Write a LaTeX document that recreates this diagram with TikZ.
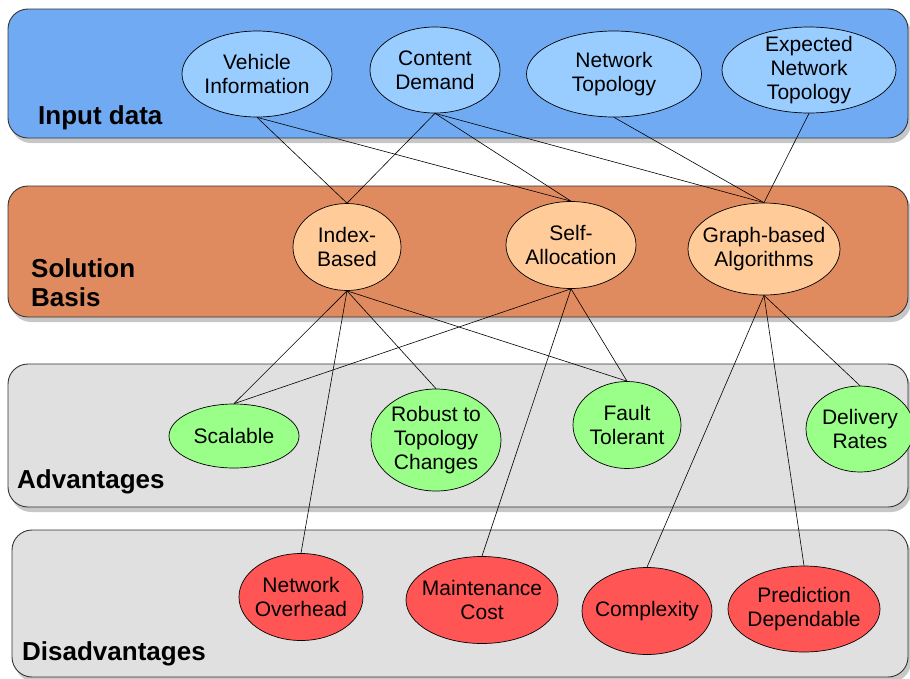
\documentclass[tikz,border=0pt]{standalone}
\usepackage{fontspec}
\setmainfont{Liberation Sans}
\usetikzlibrary{shapes.geometric,shadows}
\definecolor{bandblue}{RGB}{111,170,242}
\definecolor{lblue}{RGB}{153,204,255}
\definecolor{bandorange}{RGB}{224,138,96}
\definecolor{lorange}{RGB}{255,204,153}
\definecolor{bandgray}{RGB}{224,224,224}
\definecolor{lgreen}{RGB}{153,255,136}
\definecolor{lred}{RGB}{255,85,85}
\begin{document}
\begin{tikzpicture}[x=1pt,y=-1pt,
  band/.style={draw=black!80, line width=0.9pt, rounded corners=20pt,
    drop shadow={shadow xshift=3pt,shadow yshift=-5pt,fill=black!22,opacity=1}},
  ell/.style={ellipse, draw=black, line width=0.7pt, inner sep=0pt},
  txt/.style={align=center, inner sep=0pt, font=\fontsize{21}{24}\selectfont},
  lbl/.style={font=\bfseries\fontsize{26}{29}\selectfont, anchor=base west, inner sep=0pt},
  conn/.style={line width=0.6pt, draw=black}]
\useasboundingbox (0,0) rectangle (910,678);
\begin{scope}
\clip (0,0) rectangle (910,678);
% bands
\path[band, fill=bandblue]   (8,9)    rectangle (908,138);
\path[band, fill=bandorange] (8,186)  rectangle (908,317);
\path[band, fill=bandgray]   (8,364)  rectangle (908,507);
\path[band, fill=bandgray]   (12,530) rectangle (908,677);

% band labels
\node[lbl] (lin)  at (38,124) {Input data};
\node[lbl] (lsol1) at (31,277) {Solution};
\node[lbl] (lsol2) at (31,306) {Basis};
\node[lbl] (ladv) at (17,488) {Advantages};
\node[lbl] (ldis) at (22,660) {Disadvantages};

% input data
\node[ell, fill=lblue, minimum width=150pt, minimum height=86pt] (veh) at (257,74) {};
\node[txt] (tveh) at (veh) {Vehicle\\Information};
\node[ell, fill=lblue, minimum width=130pt, minimum height=86pt] (con) at (435,70) {};
\node[txt] (tcon) at (con) {Content\\Demand};
\node[ell, fill=lblue, minimum width=175pt, minimum height=86pt] (net) at (614,74) {};
\node[txt] (tnet) at (net) {Network\\Topology};
\node[ell, fill=lblue, minimum width=174pt, minimum height=86pt] (exp) at (809,70) {};
\node[txt] (texp) at (exp) {Expected\\Network\\Topology};

% solution basis
\node[ell, fill=lorange, minimum width=108pt, minimum height=87pt] (idx) at (347,247) {};
\node[txt] (tidx) at (idx) {Index-\\Based};
\node[ell, fill=lorange, minimum width=130pt, minimum height=87pt] (self) at (571,245) {};
\node[txt] (tself) at (self) {Self-\\Allocation};
\node[ell, fill=lorange, minimum width=152pt, minimum height=92pt] (graph) at (764,249) {};
\node[txt] (tgraph) at (graph) {Graph-based\\Algorithms};

% advantages
\node[ell, fill=lgreen, minimum width=130pt, minimum height=64pt] (scal) at (234,436) {};
\node[txt] (tscal) at (scal) {Scalable};
\node[ell, fill=lgreen, minimum width=130pt, minimum height=102pt] (rob) at (436,440) {};
\node[txt] (trob) at (rob) {Robust to\\Topology\\Changes};
\node[ell, fill=lgreen, minimum width=108pt, minimum height=87pt] (fault) at (627,425) {};
\node[txt] (tfault) at (fault) {Fault\\Tolerant};
\node[ell, fill=lgreen, minimum width=108pt, minimum height=86pt] (deliv) at (860,429) {};
\node[txt] (tdeliv) at (deliv) {Delivery\\Rates};

% disadvantages
\node[ell, fill=lred, minimum width=124pt, minimum height=87pt] (over) at (301,597) {};
\node[txt] (tover) at (over) {Network\\Overhead};
\node[ell, fill=lred, minimum width=152pt, minimum height=87pt] (maint) at (482,600) {};
\node[txt] (tmaint) at (maint) {Maintenance\\Cost};
\node[ell, fill=lred, minimum width=130pt, minimum height=87pt] (compl) at (647,611) {};
\node[txt] (tcompl) at (compl) {Complexity};
\node[ell, fill=lred, minimum width=152pt, minimum height=86pt] (pred) at (804,609) {};
\node[txt] (tpred) at (pred) {Prediction\\Dependable};

% connectors
\draw[conn] (veh.south) -- (idx.north);
\draw[conn] (veh.south) -- (self.north);
\draw[conn] (con.south) -- (idx.north);
\draw[conn] (con.south) -- (self.north);
\draw[conn] (con.south) -- (graph.north);
\draw[conn] (net.south) -- (graph.north);
\draw[conn] (exp.south) -- (graph.north);

\draw[conn] (idx.south) -- (scal.north);
\draw[conn] (idx.south) -- (over.north);
\draw[conn] (idx.south) -- (rob.north);
\draw[conn] (idx.south) -- (fault.north);
\draw[conn] (self.south) -- (scal.north);
\draw[conn] (self.south) -- (maint.north);
\draw[conn] (self.south) -- (fault.north);
\draw[conn] (graph.south) -- (compl.north);
\draw[conn] (graph.south) -- (pred.north);
\draw[conn] (graph.south) -- (deliv.north);
\end{scope}
\end{tikzpicture}
\end{document}
